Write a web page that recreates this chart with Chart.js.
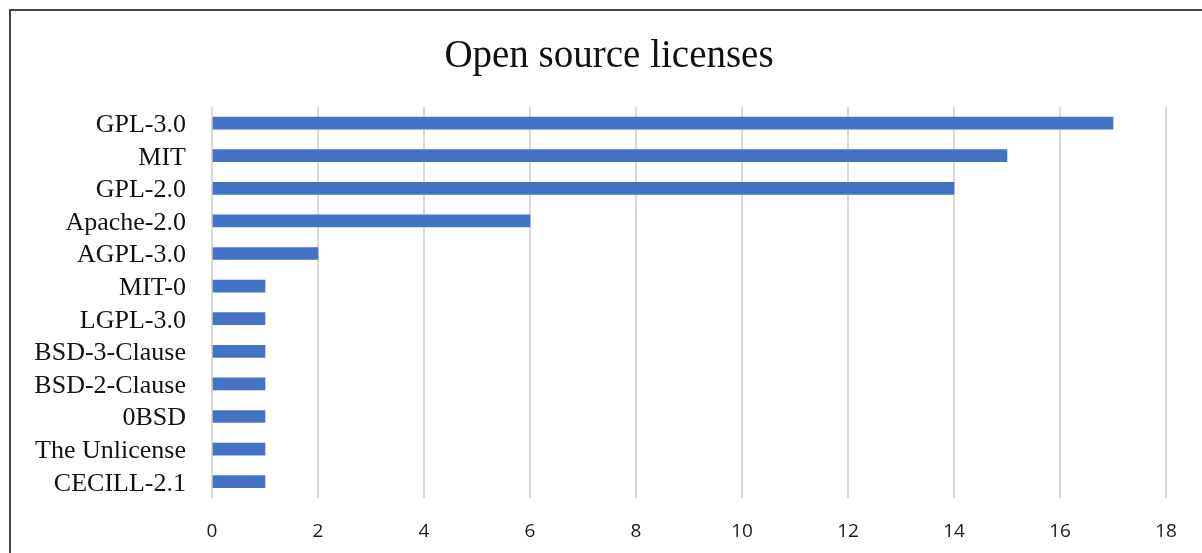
<!DOCTYPE html>
<html>
<head>
<meta charset="utf-8">
<script src="https://cdn.jsdelivr.net/npm/chart.js@4"></script>
<style>
  html, body { margin: 0; padding: 0; background: #fff; overflow: hidden; }
  #wrap { position: relative; width: 1202px; height: 553px; }
  #frame {
    position: absolute; left: 9px; top: 9px; right: -4px; bottom: -4px;
    border-left: 2px solid #444; border-top: 2px solid #444;
    pointer-events: none;
  }
  canvas { position: absolute; left: 0; top: 0; }
</style>
</head>
<body>
<div id="wrap">
  <canvas id="myChart" width="1202" height="553"></canvas>
  <div id="frame"></div>
</div>
<script>
var licenses = ['GPL-3.0', 'MIT', 'GPL-2.0', 'Apache-2.0', 'AGPL-3.0', 'MIT-0',
                'LGPL-3.0', 'BSD-3-Clause', 'BSD-2-Clause', '0BSD', 'The Unlicense', 'CECILL-2.1'];
var counts = [17, 15, 14, 6, 2, 1, 1, 1, 1, 1, 1, 1];
var xTicks = [0, 2, 4, 6, 8, 10, 12, 14, 16, 18];

var ctx = document.getElementById('myChart');

const myChart = new Chart(ctx, {
  type: 'bar',
  data: {
    labels: licenses,
    datasets: [{
      data: counts,
      backgroundColor: '#4472C4',
      borderWidth: 0,
      barThickness: 12
    }]
  },
  options: {
    indexAxis: 'y',
    responsive: false,
    animation: false,
    layout: { padding: { left: 16, right: 0, top: 0, bottom: 0 } },
    plugins: {
      legend: { display: false },
      tooltip: { enabled: false },
      title: {
        display: true,
        text: 'Open source licenses',
        color: '#111',
        font: { family: 'Liberation Serif', size: 39, weight: 'normal' },
        padding: { top: 33, bottom: 27 }
      }
    },
    scales: {
      x: {
        min: 0,
        max: 18,
        afterBuildTicks: function(axis) {
          axis.ticks = xTicks.map(function(v) { return { value: v }; });
        },
        afterFit: function(axis) { axis.height = 55; },
        grid: { color: '#d9d9d9', lineWidth: 2, drawTicks: false },
        border: { display: false },
        ticks: {
          color: '#1a1a1a',
          padding: 22,
          font: { family: 'Open Sans', size: 19 }
        }
      },
      y: {
        afterFit: function(axis) { axis.width = 196; },
        grid: { display: false, drawTicks: false },
        border: { display: false },
        ticks: {
          color: '#111',
          padding: 26,
          labelOffset: 2,
          autoSkip: false,
          font: { family: 'Liberation Serif', size: 26 }
        }
      },
      // empty right-hand axis, only keeps a margin after the plot
      yRight: {
        type: 'category',
        position: 'right',
        afterFit: function(axis) { axis.width = 36; },
        grid: { display: false, drawTicks: false },
        border: { display: false },
        ticks: { display: false }
      }
    }
  }
});
</script>
</body>
</html>
